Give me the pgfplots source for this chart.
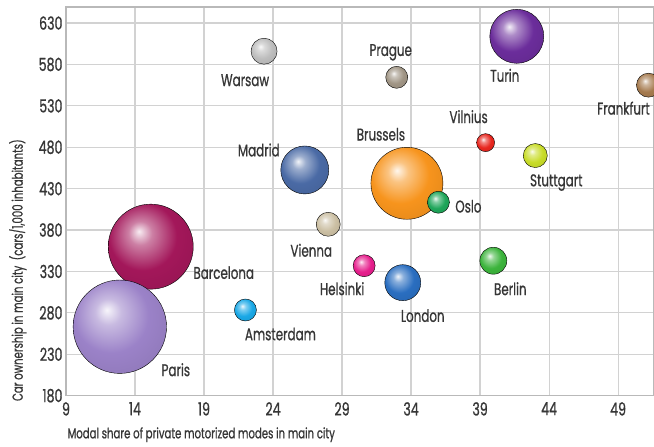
\documentclass[border=0pt]{standalone}
\usepackage{fontspec}
\setmainfont{Poppins}[FakeStretch=0.7, FakeBold=0.8]
\usepackage{pgfplots}
\pgfplotsset{compat=1.18}

\definecolor{txt}{HTML}{363636}
\definecolor{cWarsaw}{HTML}{BDBDBD}
\definecolor{cPrague}{HTML}{A09585}
\definecolor{cTurin}{HTML}{6B2D9B}
\definecolor{cFrankfurt}{HTML}{A57A4E}
\definecolor{cVilnius}{HTML}{E8261E}
\definecolor{cStuttgart}{HTML}{C8DC28}
\definecolor{cBrussels}{HTML}{F7941D}
\definecolor{cOslo}{HTML}{1FA65A}
\definecolor{cMadrid}{HTML}{4A6AA5}
\definecolor{cVienna}{HTML}{CBBFA3}
\definecolor{cBarcelona}{HTML}{A3175A}
\definecolor{cParis}{HTML}{9B82C8}
\definecolor{cAmsterdam}{HTML}{1AA8E6}
\definecolor{cHelsinki}{HTML}{E61E8C}
\definecolor{cLondon}{HTML}{2A6EC0}
\definecolor{cBerlin}{HTML}{3CB43C}

% a softer sphere than tikz's ball shading
\makeatletter
\pgfdeclareradialshading[tikz@ball]{softball}{\pgfqpoint{-7bp}{9bp}}{%
  color(0bp)=(tikz@ball!8!white); color(7bp)=(tikz@ball!55!white);
  color(20bp)=(tikz@ball); color(42bp)=(tikz@ball!88!black);
  color(60bp)=(tikz@ball!72!black)}
\makeatother
\pgfdeclareplotmark{sball}{\shade[shading=softball] (0pt,0pt) circle (\pgfplotmarksize);}

% bubble: colour, radius (pt), label, label dx, label dy
\pgfplotsset{city/.style n args={5}{
    only marks, mark=sball, mark size=#2pt,
    mark options={ball color=#1, shading=softball, draw=none},
    nodes near coords={#3},
    nodes near coords align={anchor=center},
    every node near coord/.append style={xshift=#4pt, yshift=#5pt,
        font=\fontsize{17}{17}\selectfont, text=txt, inner sep=0pt}
}}

\begin{document}
\begin{tikzpicture}
\useasboundingbox (-66pt,-51.3pt) rectangle (588pt,395.7pt);
\clip (-66pt,-51.3pt) rectangle (588pt,395.7pt);
\begin{axis}[
    at={(0pt,0pt)}, anchor=south west,
    scale only axis, width=588pt, height=388.7pt,
    xmin=9, xmax=51.6, ymin=180, ymax=649.4,
    xtick={9,14,...,49}, ytick={180,230,...,630},
    grid=major, major grid style={draw=gray!35, line width=1.2pt},
    axis line style={draw=gray!55, line width=1.5pt},
    major tick length=0pt,
    /pgf/number format/assume math mode=true,
    /pgf/number format/1000 sep={},
    tick label style={font=\fontsize{18}{18}\selectfont, text=txt},
    xticklabel style={yshift=-3pt},
    xlabel={Modal share of private motorized modes in main city},
    ylabel={Car ownership in main city\ \ (cars/1,000 inhabitants)},
    every axis x label/.style={at={(axis description cs:0.23,0)}, yshift=-39pt,
        anchor=center, font=\fontsize{14.5}{14.5}\selectfont, text=txt},
    every axis y label/.style={at={(axis description cs:-0.082,0.323)}, rotate=90,
        anchor=center, font=\fontsize{14.5}{14.5}\selectfont, text=txt},
]
\addplot[city={cBarcelona}{42.5}{Barcelona}{73}{-26}] coordinates {(15.14,360)};
\addplot[city={cParis}{46.7}{Paris}{56}{-43}] coordinates {(12.9,263.3)};
\addplot[city={cWarsaw}{13}{Warsaw}{-19}{-29}] coordinates {(23.35,596)};
\addplot[city={cPrague}{11}{Prague}{-6}{25}] coordinates {(32.96,564.5)};
\addplot[city={cTurin}{27}{Turin}{-12}{-39}] coordinates {(41.66,614)};
\addplot[city={cFrankfurt}{12}{Frankfurt}{-25}{-23}] coordinates {(51.2,555)};
\addplot[city={cVilnius}{9}{Vilnius}{-17}{26}] coordinates {(39.4,485.6)};
\addplot[city={cStuttgart}{12}{Stuttgart}{21}{-27}] coordinates {(43,470)};
\addplot[city={cBrussels}{36}{Brussels}{-26}{49}] coordinates {(33.7,436.5)};
\addplot[city={cOslo}{11}{Oslo}{30}{-4}] coordinates {(35.98,413.6)};
\addplot[city={cMadrid}{24}{Madrid}{-46}{20}] coordinates {(26.3,452.6)};
\addplot[city={cVienna}{12}{Vienna}{-17}{-26}] coordinates {(28,387)};
\addplot[city={cAmsterdam}{11}{Amsterdam}{35}{-24}] coordinates {(22,283.5)};
\addplot[city={cHelsinki}{11}{Helsinki}{-22}{-23}] coordinates {(30.6,337)};
\addplot[city={cLondon}{18}{London}{20}{-33}] coordinates {(33.4,316.5)};
\addplot[city={cBerlin}{13.5}{Berlin}{17}{-28}] coordinates {(39.96,343)};
\end{axis}
\end{tikzpicture}
\end{document}
